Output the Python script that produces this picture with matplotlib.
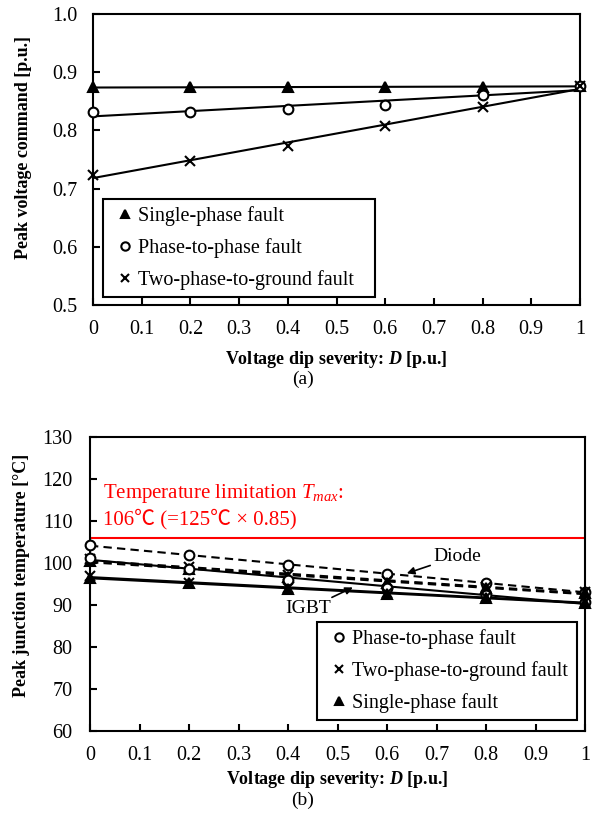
import matplotlib
matplotlib.use('Agg')
import matplotlib.pyplot as plt
from matplotlib.lines import Line2D
import numpy as np

# voltage dip severity D [p.u.]
severity = [0.0, 0.2, 0.4, 0.6, 0.8, 1.0]

# (a) peak voltage command [p.u.]
cmd_single = [0.874, 0.874, 0.874, 0.875, 0.875, 0.876]
cmd_phase = [0.831, 0.832, 0.837, 0.844, 0.860, 0.876]
cmd_two = [0.724, 0.747, 0.774, 0.807, 0.840, 0.876]

# (b) peak junction temperature [degC]
diode_phase = [104.2, 101.8, 99.5, 97.4, 95.3, 93.0]
diode_two = [100.9, 98.9, 97.0, 95.7, 94.3, 93.0]
diode_single = [100.5, 98.6, 96.7, 95.3, 94.0, 92.9]
igbt_phase = [101.2, 98.6, 96.0, 94.0, 92.3, 90.7]
igbt_two = [96.8, 95.3, 94.0, 92.9, 91.8, 90.6]
igbt_single = [96.5, 95.1, 93.8, 92.6, 91.6, 90.5]
t_limit = 106

x_ticks = [0, 0.1, 0.2, 0.3, 0.4, 0.5, 0.6, 0.7, 0.8, 0.9, 1.0]
x_ticklabels = ['0', '0.1', '0.2', '0.3', '0.4', '0.5', '0.6', '0.7', '0.8', '0.9', '1']

plt.rcParams['font.family'] = ['Liberation Serif', 'DejaVu Serif']
plt.rcParams['mathtext.fontset'] = 'custom'
plt.rcParams['mathtext.rm'] = 'Liberation Serif'
plt.rcParams['mathtext.it'] = 'Liberation Serif:italic'
plt.rcParams['mathtext.bf'] = 'Liberation Serif:bold'
plt.rcParams['mathtext.bfit'] = 'Liberation Serif:italic:bold'

TICK_FS = 14.5
LABEL_FS = 13
LEG_FS = 14.5

fig = plt.figure(figsize=(6.02, 8.22), dpi=100)
ax1 = fig.add_axes([93 / 602, 1 - 305 / 822, 487 / 602, 291 / 822])
ax2 = fig.add_axes([90 / 602, 1 - 731 / 822, 495 / 602, 294.3 / 822])

MARKERS = {'single': dict(marker='^', mfc='k', ms=7),
           'phase': dict(marker='o', mfc='white', ms=7),
           'two': dict(marker='x', mfc='k', ms=7)}


def draw_series(ax, y, kind, ls='-'):
    ax.plot(severity, y, ls='none', color='k', mew=1.5, clip_on=False, zorder=4, **MARKERS[kind])
    k, b = np.polyfit(severity, y, 1)
    line = ax.plot([0, 1], [b, k + b], color='k', lw=1.5, ls=ls, zorder=3)[0]
    if ls == '--':
        line.set_dashes([4, 2.5])


def style_axes(ax, ypad, labelpad):
    for s in ax.spines.values():
        s.set_linewidth(1.5)
    ax.tick_params(direction='in', length=5, width=1.5, labelsize=TICK_FS)
    ax.tick_params(axis='x', pad=11)
    ax.tick_params(axis='y', pad=ypad)
    ax.set_xlim(0, 1)
    ax.set_xticks(x_ticks)
    ax.set_xticklabels(x_ticklabels)
    ax.set_xlabel(r'Voltage dip severity: $\mathbfit{D}$ [p.u.]', fontsize=LABEL_FS,
                  fontweight='bold', labelpad=labelpad)


def legend_handles(kinds, labels):
    return [Line2D([], [], ls='none', color='k', mew=1.5, label=l, **dict(MARKERS[k], ms=6))
            for k, l in zip(kinds, labels)]


def add_legend(ax, kinds, labels, anchor):
    leg = ax.legend(handles=legend_handles(kinds, labels), loc='lower left',
                    bbox_to_anchor=anchor, mode='expand', borderaxespad=0, fontsize=LEG_FS,
                    handlelength=1.5, handletextpad=-0.1, labelspacing=0.6,
                    fancybox=False, framealpha=1, edgecolor='k', borderpad=0.35)
    leg.get_frame().set_linewidth(1.5)
    return leg


# ---- (a) ----
draw_series(ax1, cmd_single, 'single')
draw_series(ax1, cmd_phase, 'phase')
draw_series(ax1, cmd_two, 'two')
style_axes(ax1, 11.5, 7)
ax1.set_ylim(0.5, 1.0)
ax1.set_yticks([0.5, 0.6, 0.7, 0.8, 0.9, 1.0])
ax1.set_yticklabels(['0.5', '0.6', '0.7', '0.8', '0.9', '1.0'])
ax1.set_ylabel('Peak voltage command [p.u.]', fontsize=LABEL_FS, fontweight='bold')
ax1.yaxis.set_label_coords(-0.125, 0.54)
add_legend(ax1, ['single', 'phase', 'two'],
           ['Single-phase fault', 'Phase-to-phase fault', 'Two-phase-to-ground fault'],
           (0.02, 0.027, 0.5585, 0.33))

# ---- (b) ----
draw_series(ax2, diode_phase, 'phase', '--')
draw_series(ax2, diode_two, 'two', '--')
draw_series(ax2, diode_single, 'single', '--')
draw_series(ax2, igbt_phase, 'phase')
draw_series(ax2, igbt_two, 'two')
draw_series(ax2, igbt_single, 'single')
ax2.axhline(t_limit, color='red', lw=1.5, zorder=2)
style_axes(ax2, 12.5, 3)
ax2.set_ylim(60, 130)
ax2.set_yticks(range(60, 131, 10))
ax2.set_ylabel('Peak junction temperature [°C]', fontsize=LABEL_FS, fontweight='bold')
ax2.yaxis.set_label_coords(-0.121, 0.53)

ax2.text(0.026, 116.6, r'Temperature limitation $T_{max}$:', color='red', fontsize=15, va='center')
ax2.text(0.026, 110.4, '106℃ (=125℃ × 0.85)', color='red', fontsize=15, va='center',
         family=['Liberation Serif', 'Noto Sans CJK JP'])

ax2.annotate('Diode', xy=(0.64, 97.5), xytext=(0.693, 101.5), ha='left', va='center', fontsize=14,
             arrowprops=dict(arrowstyle='-|>', color='k', lw=1.2, shrinkA=0, shrinkB=0,
                             mutation_scale=11))
ax2.annotate('IGBT', xy=(0.531, 94.15), xytext=(0.487, 89.1), ha='right', va='center', fontsize=14,
             arrowprops=dict(arrowstyle='-|>', color='k', lw=1.2, shrinkA=0, shrinkB=0,
                             mutation_scale=11))

add_legend(ax2, ['phase', 'two', 'single'],
           ['Phase-to-phase fault', 'Two-phase-to-ground fault', 'Single-phase fault'],
           (0.4586, 0.0374, 0.525, 0.33))

fig.text(303 / 602, 1 - 379 / 822, '(a)', ha='center', va='center', fontsize=14)
fig.text(303 / 602, 1 - 800 / 822, '(b)', ha='center', va='center', fontsize=14)

fig.savefig('out.png', dpi=100)
